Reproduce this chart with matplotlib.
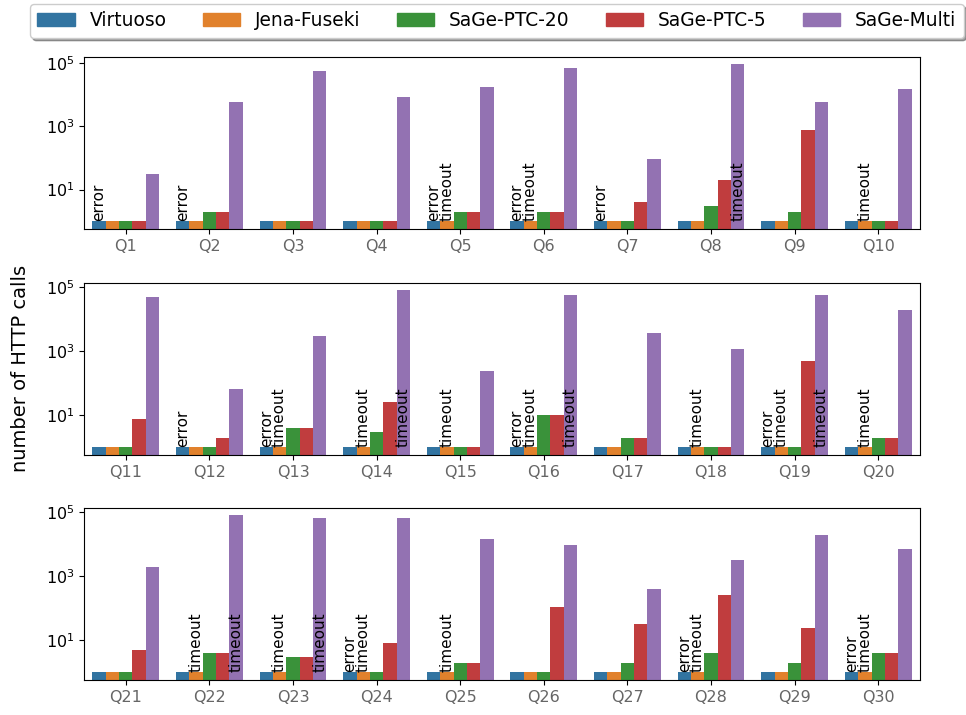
import matplotlib
matplotlib.use('Agg')
import matplotlib.pyplot as plt
from matplotlib.patches import Patch
import numpy as np

# Data (number of HTTP calls per query and system)
queries = ['Q%d' % i for i in range(1, 31)]
systems = ['Virtuoso', 'Jena-Fuseki', 'SaGe-PTC-20', 'SaGe-PTC-5', 'SaGe-Multi']
colors = ['#3274a1', '#e1812c', '#3a923a', '#c03d3e', '#9372b2']

virtuoso = [1, 1, 1, 1, 1, 1, 1, 1, 1, 1,
            1, 1, 1, 1, 1, 1, 1, 1, 1, 1,
            1, 1, 1, 1, 1, 1, 1, 1, 1, 1]
jena = [1, 1, 1, 1, 1, 1, 1, 1, 1, 1,
        1, 1, 1, 1, 1, 1, 1, 1, 1, 1,
        1, 1, 1, 1, 1, 1, 1, 1, 1, 1]
ptc20 = [1, 2, 1, 1, 2, 2, 1, 3, 2, 1,
         1, 1, 4, 3, 1, 10, 2, 1, 1, 2,
         1, 4, 3, 1, 2, 1, 2, 4, 2, 4]
ptc5 = [1, 2, 1, 1, 2, 2, 4, 20, 750, 1,
        7.5, 2, 4, 26, 1, 10, 2, 1, 490, 2,
        5, 4, 3, 8, 2, 110, 32, 260, 24, 4]
multi = [30, 5900, 56000, 8700, 17500, 68000, 95, 91000, 5900, 15500,
         51000, 68, 3000, 80000, 245, 56000, 3700, 1150, 56000, 19500,
         2000, 80000, 65000, 65000, 15000, 9500, 390, 3300, 19000, 7100]

# failed runs: (query index, system index, label)
note_query = [0, 1, 4, 4, 5, 5, 6, 7, 9,
              11, 12, 12, 13, 13, 14, 15, 15, 15, 17, 18, 18, 18, 19,
              21, 21, 22, 22, 23, 23, 24, 27, 27, 29, 29]
note_system = [0, 0, 0, 1, 0, 1, 0, 4, 1,
               0, 0, 1, 1, 4, 1, 0, 1, 4, 1, 0, 1, 4, 1,
               1, 4, 1, 4, 0, 1, 1, 0, 1, 0, 1]
note_text = ['error', 'error', 'error', 'timeout', 'error', 'timeout', 'error', 'timeout', 'timeout',
             'error', 'error', 'timeout', 'timeout', 'timeout', 'timeout', 'error', 'timeout', 'timeout',
             'timeout', 'error', 'timeout', 'timeout', 'timeout',
             'timeout', 'timeout', 'timeout', 'timeout', 'error', 'timeout', 'timeout',
             'error', 'timeout', 'error', 'timeout']

series = [virtuoso, jena, ptc20, ptc5, multi]
width = 0.16

fig = plt.figure(figsize=(9.66, 7.15), dpi=100)
axes = []
bottoms = [1 - 229 / 715, 1 - 455 / 715, 1 - 680 / 715]
for p in range(3):
    ax = fig.add_axes([84 / 966, bottoms[p], 836 / 966, 172.5 / 715])
    axes.append(ax)
    idx = np.arange(p * 10, p * 10 + 10)
    x = np.arange(10)
    for j, vals in enumerate(series):
        v = np.array(vals)[idx]
        ax.bar(x - 0.4 + width * j + width / 2, v, width, color=colors[j])
    ax.set_yscale('log')
    ax.set_xlim(-0.5, 9.5)
    ax.set_yticks([1e1, 1e3, 1e5])
    ax.yaxis.set_minor_locator(matplotlib.ticker.NullLocator())
    ax.set_xticks(x)
    ax.set_xticklabels([queries[i] for i in idx], color='#666666', fontsize=11.5)
    ax.tick_params(axis='y', labelsize=11.5)
    for q, s, t in zip(note_query, note_system, note_text):
        if p * 10 <= q < p * 10 + 10:
            ax.text(q - p * 10 - 0.4 + width * s - 0.01, 1, t, rotation=90,
                    ha='left', va='bottom', fontsize=11)

axes[1].set_ylabel('number of HTTP calls', fontsize=14, labelpad=11)

handles = [Patch(color=c, label=s) for c, s in zip(colors, systems)]
fig.legend(handles=handles, ncol=5, loc='upper left', bbox_to_anchor=(30 / 966, 1 - 4 / 715),
           shadow=True, fontsize=13.4, borderaxespad=0, columnspacing=1.95)

plt.savefig('out.png', dpi=100)
